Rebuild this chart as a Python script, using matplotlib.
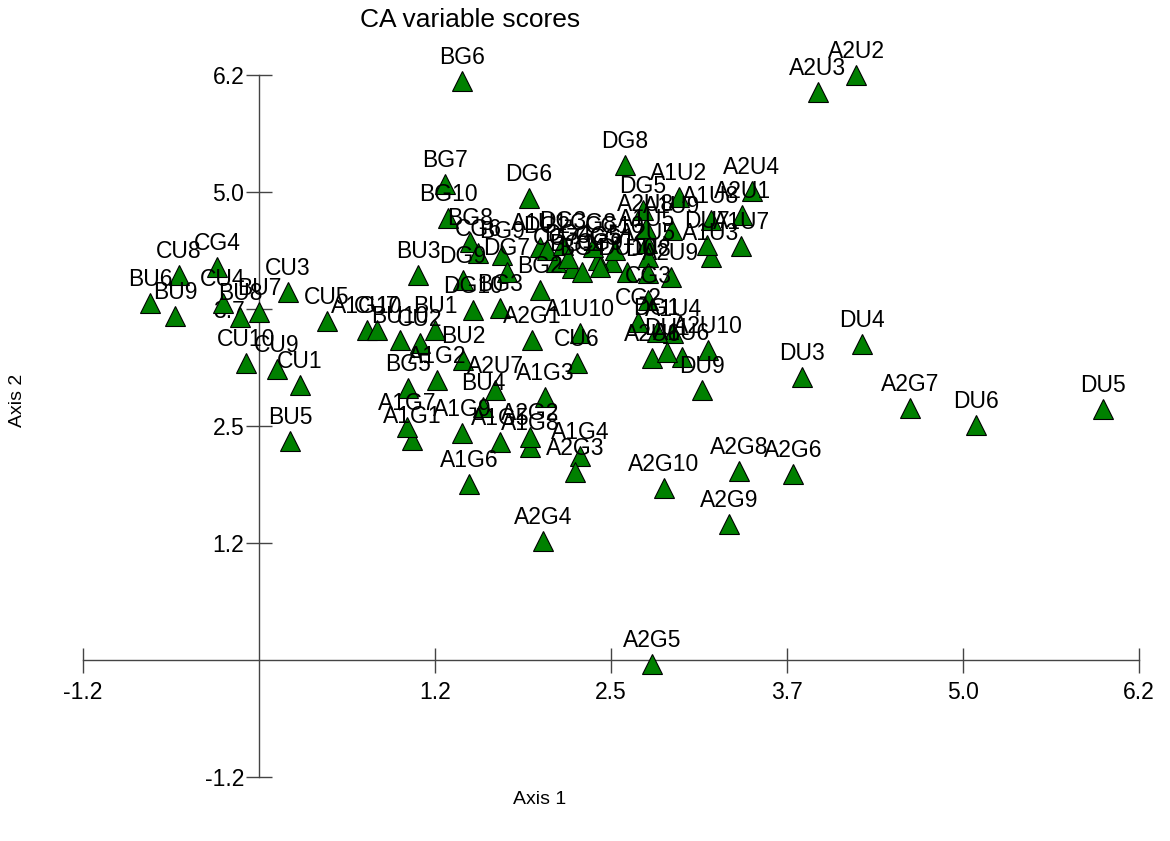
import matplotlib
matplotlib.use("Agg")
import matplotlib.pyplot as plt

plt.rcParams['font.family'] = ['Liberation Sans', 'DejaVu Sans']

# 变量名称和坐标 (CA variable scores)
names = ["A1G1", "A1G2", "A1G3", "A1G4", "A1G5", "A1G6", "A1G7", "A1G8", "A1G9", "A1G10",
         "A1U1", "A1U2", "A1U3", "A1U4", "A1U5", "A1U6", "A1U7", "A1U8", "A1U9", "A1U10",
         "A2G1", "A2G2", "A2G3", "A2G4", "A2G5", "A2G6", "A2G7", "A2G8", "A2G9", "A2G10",
         "A2U1", "A2U2", "A2U3", "A2U4", "A2U5", "A2U6", "A2U7", "A2U8", "A2U9", "A2U10",
         "BG1", "BG2", "BG3", "BG4", "BG5", "BG6", "BG7", "BG8", "BG9", "BG10",
         "BU1", "BU2", "BU3", "BU4", "BU5", "BU6", "BU7", "BU8", "BU9", "BU10",
         "CG1", "CG2", "CG3", "CG4", "CG5", "CG6", "CG7", "CG8", "CG9", "CG10",
         "CU1", "CU2", "CU3", "CU4", "CU5", "CU6", "CU7", "CU8", "CU9", "CU10",
         "DG1", "DG2", "DG3", "DG4", "DG5", "DG6", "DG7", "DG8", "DG9", "DG10",
         "DU1", "DU3", "DU4", "DU5", "DU6", "DU7", "DU8", "DU9", "DU10"]

axis1 = [1.078, 1.254, 2.015, 2.262, 1.698, 1.480, 1.043, 1.910, 1.431, 0.761,
         1.980, 2.960, 3.185, 2.918, 2.734, 2.981, 3.397, 3.185, 2.910, 2.262,
         1.924, 1.910, 2.227, 2.001, 2.770, 3.763, 4.588, 3.383, 3.312, 2.854,
         3.404, 4.207, 3.939, 3.474, 2.741, 2.770, 1.663, 2.727, 2.903, 3.164,
         2.206, 1.980, 1.698, 2.276, 1.050, 1.431, 1.311, 1.487, 1.712, 1.332,
         1.240, 1.438, 1.121, 1.579, 0.218, -0.768, 0.000, -0.134, -0.592, 0.994,
         2.488, 2.671, 2.741, -0.296, 2.389, 1.543, 2.093, 2.354, 2.403, 2.509,
         0.289, 1.135, 0.204, -0.254, 0.479, 2.241, 0.832, -0.564, 0.127, -0.092,
         2.805, 2.030, 2.142, 2.178, 2.706, 1.903, 1.748, 2.579, 1.438, 1.508,
         2.875, 3.827, 4.249, 5.948, 5.053, 3.157, 2.741, 3.122, 2.593]

axis2 = [2.331, 2.966, 2.786, 2.161, 2.309, 1.864, 2.468, 2.256, 2.405, 3.496,
         4.375, 4.905, 4.269, 3.464, 4.417, 3.210, 4.386, 4.661, 4.555, 3.464,
         3.390, 2.362, 1.992, 1.261, -0.042, 1.970, 2.669, 2.002, 1.441, 1.822,
         4.714, 6.197, 6.017, 4.968, 4.269, 3.199, 2.860, 4.576, 4.057, 3.284,
         4.153, 3.919, 3.729, 4.110, 2.881, 6.133, 5.042, 4.428, 4.290, 4.682,
         3.496, 3.178, 4.078, 2.680, 2.320, 3.782, 3.686, 3.633, 3.644, 3.390,
         4.216, 3.581, 3.814, 4.163, 4.237, 4.311, 4.216, 4.375, 4.163, 4.343,
         2.913, 3.358, 3.898, 3.782, 3.591, 3.146, 3.496, 4.078, 3.083, 3.146,
         3.475, 4.343, 4.396, 4.258, 4.767, 4.894, 4.110, 5.244, 4.025, 3.708,
         3.263, 2.998, 3.347, 2.659, 2.489, 4.396, 4.100, 2.860, 4.110]

ticks = [-1.24, 1.24, 2.48, 3.72, 4.96, 6.2]
tick_labels = ["-1.2", "1.2", "2.5", "3.7", "5.0", "6.2"]

fig = plt.figure(figsize=(11.7, 8.41), dpi=100)
ax = fig.add_axes([0, 0, 1, 1])
ax.set_xlim(-1.825, 6.420)
ax.set_ylim(-1.917, 6.992)

# 坐标轴画成十字形
for s in ["top", "right"]:
    ax.spines[s].set_visible(False)
ax.spines["left"].set_position(("data", 0))
ax.spines["bottom"].set_position(("data", 0))
ax.spines["left"].set_bounds(-1.24, 6.2)
ax.spines["bottom"].set_bounds(-1.24, 6.2)
for s in ["left", "bottom"]:
    ax.spines[s].set_color("#444444")
    ax.spines[s].set_linewidth(1.0)

ax.set_xticks(ticks)
ax.set_xticklabels(tick_labels)
ax.set_yticks(ticks)
ax.set_yticklabels(tick_labels)
ax.tick_params(axis="x", direction="inout", length=18, width=1, color="#444444",
               labelsize=16.5, pad=6)
ax.tick_params(axis="y", direction="inout", length=19, width=1, color="#444444",
               labelsize=16.5, pad=1)

# 三角形 + 标签
for n, x, y in zip(names, axis1, axis2):
    ax.plot(x, y, marker="^", markersize=15, color="#008000",
            markeredgecolor="black", markeredgewidth=0.8, zorder=3)
    ax.annotate(n, (x, y), xytext=(0, 17), textcoords="offset points",
                ha="center", va="center", fontsize=16.5, zorder=4)

fig.text(470 / 1170, 1 - 20 / 841, "CA variable scores", ha="center", va="center",
         fontsize=19)
fig.text(540 / 1170, 1 - 800 / 841, "Axis 1", ha="center", va="center", fontsize=14)
fig.text(18 / 1170, 1 - 400 / 841, "Axis 2", ha="center", va="center", fontsize=14,
         rotation=90)

fig.savefig("out.png", dpi=100)
